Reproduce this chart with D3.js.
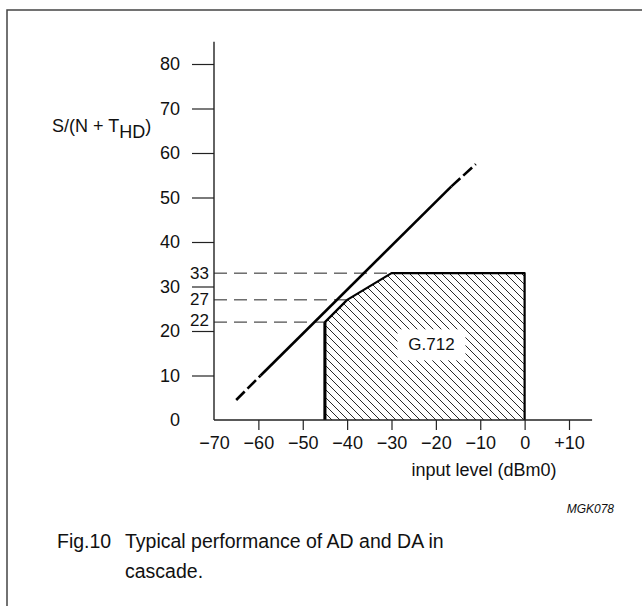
<!DOCTYPE html>
<html>
<head>
<meta charset="utf-8">
<script src="https://cdn.jsdelivr.net/npm/d3@7"></script>
<style>
    html, body { margin: 0; padding: 0; background: #fff; }
    svg text { font-family: "Liberation Sans", Arial, Helvetica, sans-serif; fill: #111; }
</style>
</head>
<body>
<div id="chart"></div>
<script>
// Fig.10 - S/(N+THD) vs input level, AD and DA in cascade

const yTicks = [0, 10, 20, 30, 40, 50, 60, 70, 80];
const xTicks = [-70, -60, -50, -40, -30, -20, -10, 0, 10];
const xTickLabels = ["−70", "−60", "−50", "−40", "−30", "−20", "−10", "0", "+10"];

// marked levels on the y axis and where their dashed guide lines stop
const markLevels = [33, 27, 22];
const markEndX = [-30, -40, -45];

// G.712 mask outline (input level, S/(N+THD))
const maskX = [-45, -45, -40, -30, 0, 0];
const maskY = [0, 22, 27, 33, 33, 0];

// typical performance line, dashed at both ends
const perfX = [-65, -59.5, -16.5, -11];
const perfY = [4.5, 10, 52.5, 57.5];
const perfStyle = ["dash", "solid", "dash"];

const width = 642;
const height = 606;
const labelSize = 18;

const svg = d3.select("#chart").append("svg")
    .attr("width", width)
    .attr("height", height);

const x = d3.scaleLinear().domain([-70, 10]).range([214, 569]);
const y = d3.scaleLinear().domain([0, 80]).range([420, 64]);

// frame (left + top only)
svg.append("path")
    .attr("d", `M7,${height} L7,10 L${width},10`)
    .attr("fill", "none")
    .attr("stroke", "#444")
    .attr("stroke-width", 1.5);

const defs = svg.append("defs");
const hatch = defs.append("pattern")
    .attr("id", "hatch")
    .attr("patternUnits", "userSpaceOnUse")
    .attr("width", 8)
    .attr("height", 8);
hatch.append("path")
    .attr("d", "M-2,-2 L10,10 M-2,6 L2,10 M6,-2 L10,2")
    .attr("stroke", "#111")
    .attr("stroke-width", 0.9);

// mask area
const maskPts = maskX.map((d, i) => [x(d), y(maskY[i])]);
svg.append("path")
    .attr("d", d3.line()(maskPts))
    .attr("fill", "url(#hatch)")
    .attr("stroke", "none");
svg.append("path")
    .attr("d", d3.line()(maskPts))
    .attr("fill", "none")
    .attr("stroke", "#000")
    .attr("stroke-width", 2.2)
    .attr("stroke-linejoin", "round");
// heavier left edge
svg.append("line")
    .attr("x1", x(maskX[0])).attr("x2", x(maskX[1]))
    .attr("y1", y(maskY[0])).attr("y2", y(maskY[1]))
    .attr("stroke", "#000")
    .attr("stroke-width", 3);

// G.712 label on a white patch
const labelX = x(-21), labelY = y(17);
svg.append("rect")
    .attr("x", labelX - 34).attr("y", labelY - 15)
    .attr("width", 68).attr("height", 31)
    .attr("fill", "#fff");
svg.append("text")
    .attr("x", labelX).attr("y", labelY + 6)
    .attr("text-anchor", "middle")
    .attr("font-size", 17)
    .text("G.712");

// dashed guide lines at the marked levels
svg.selectAll("line.guide")
    .data(markLevels)
    .join("line")
    .attr("class", "guide")
    .attr("x1", x(-70))
    .attr("x2", (d, i) => x(markEndX[i]))
    .attr("y1", d => y(d))
    .attr("y2", d => y(d))
    .attr("stroke", "#222")
    .attr("stroke-width", 1)
    .attr("stroke-dasharray", "13,7");

// axes
const yAxis = d3.axisLeft(y)
    .tickValues(yTicks)
    .tickSize(22)
    .tickPadding(12)
    .tickFormat(d3.format("d"));

const yAxisGroup = svg.append("g")
    .attr("transform", `translate(${x(-70)},0)`)
    .call(yAxis);
yAxisGroup.select(".domain").remove();
yAxisGroup.selectAll(".tick").filter(d => d === 0).select("line").remove();

const xAxis = d3.axisBottom(x)
    .tickValues(xTicks)
    .tickSize(10)
    .tickPadding(6)
    .tickFormat((d, i) => xTickLabels[i]);

const xAxisGroup = svg.append("g")
    .attr("transform", `translate(0,${y(0)})`)
    .call(xAxis);
xAxisGroup.select(".domain").remove();
xAxisGroup.selectAll(".tick").filter(d => d === -70).select("line").remove();

svg.selectAll(".tick line").attr("stroke", "#222").attr("stroke-width", 1.2);
svg.selectAll(".tick text")
    .attr("font-size", labelSize)
    .attr("font-family", "Liberation Sans, Arial, sans-serif")
    .attr("fill", "#111");

// axis lines
svg.append("line")
    .attr("x1", x(-70)).attr("x2", x(-70))
    .attr("y1", y(0)).attr("y2", y(85))
    .attr("stroke", "#222").attr("stroke-width", 1.4);
svg.append("line")
    .attr("x1", x(-70)).attr("x2", x(15.2))
    .attr("y1", y(0)).attr("y2", y(0))
    .attr("stroke", "#222").attr("stroke-width", 1.4);

// marked level labels beside the axis
svg.selectAll("text.mark")
    .data(markLevels)
    .join("text")
    .attr("class", "mark")
    .attr("x", x(-70) - 5)
    .attr("y", (d, i) => y(d) + 6 - i)
    .attr("text-anchor", "end")
    .attr("font-size", 17)
    .text(d => d);

// performance line
const perfSegs = perfStyle.map((s, i) => ({
    style: s,
    pts: [[x(perfX[i]), y(perfY[i])], [x(perfX[i + 1]), y(perfY[i + 1])]]
}));
svg.selectAll("path.perf")
    .data(perfSegs)
    .join("path")
    .attr("class", "perf")
    .attr("d", d => d3.line()(d.pts))
    .attr("fill", "none")
    .attr("stroke", "#000")
    .attr("stroke-width", 2.6)
    .attr("stroke-dasharray", d => d.style === "dash" ? "12,4" : null);

// y axis title
const yTitle = svg.append("text")
    .attr("x", 52)
    .attr("y", 132)
    .attr("font-size", labelSize);
yTitle.append("tspan").text("S/(N + T");
yTitle.append("tspan").attr("dy", 6).text("HD");
yTitle.append("tspan").attr("dy", -6).text(")");

// x axis title
svg.append("text")
    .attr("x", 484)
    .attr("y", 476)
    .attr("text-anchor", "middle")
    .attr("font-size", labelSize)
    .text("input level (dBm0)");

svg.append("text")
    .attr("x", 614)
    .attr("y", 513)
    .attr("text-anchor", "end")
    .attr("font-size", 12)
    .attr("font-style", "italic")
    .text("MGK078");

// caption
svg.append("text")
    .attr("x", 57).attr("y", 548)
    .attr("font-size", 19.5)
    .text("Fig.10");
svg.append("text")
    .attr("x", 125).attr("y", 548)
    .attr("font-size", 19.5)
    .text("Typical performance of AD and DA in");
svg.append("text")
    .attr("x", 125).attr("y", 578)
    .attr("font-size", 19.5)
    .text("cascade.");
</script>
</body>
</html>
